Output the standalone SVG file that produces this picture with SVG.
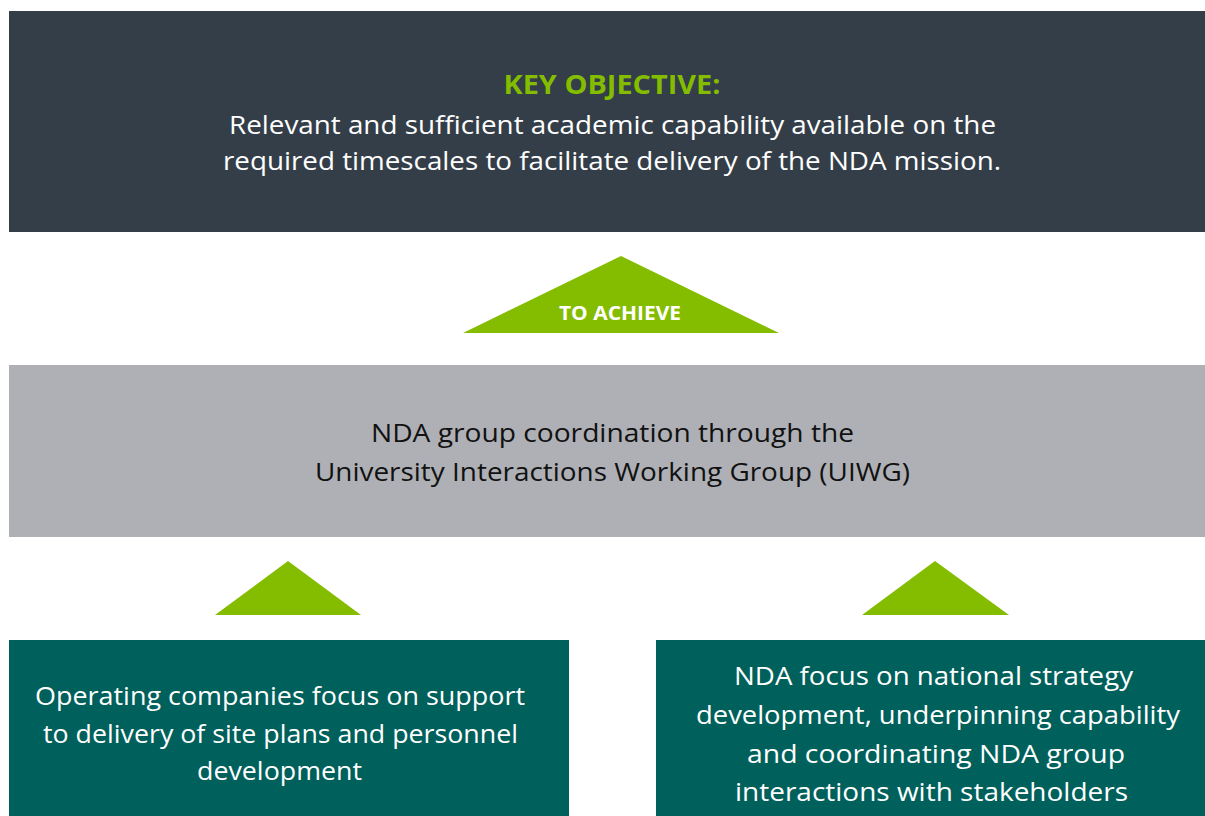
<svg xmlns="http://www.w3.org/2000/svg" width="1205" height="816" viewBox="0 0 1205 816">
  <style>
    .t { font-family: "Open Sans", "Noto Sans", "Liberation Sans", sans-serif; text-anchor: middle; }
    .body { font-size: 26px; }
    .light { fill: #ffffff; }
    .dark { fill: #111111; }
    .head { font-size: 26px; font-weight: bold; fill: #84bd00; }
    .tag { font-size: 19px; font-weight: bold; fill: #ffffff; }
    .arrow { fill: #84bd00; }
  </style>
  <rect width="1205" height="816" fill="#ffffff"/>

  <!-- Key objective banner -->
  <g id="objective">
    <rect x="9" y="11" width="1196" height="221" fill="#343e48"/>
    <text class="t head" x="612" y="94" textLength="217" lengthAdjust="spacingAndGlyphs">KEY OBJECTIVE:</text>
    <text class="t body light" x="612.5" y="134" textLength="767" lengthAdjust="spacingAndGlyphs">Relevant and sufficient academic capability available on the</text>
    <text class="t body light" x="612" y="170" textLength="778" lengthAdjust="spacingAndGlyphs">required timescales to facilitate delivery of the NDA mission.</text>
  </g>

  <!-- Upward arrows -->
  <g id="connectors">
    <g id="to-achieve">
      <polygon class="arrow" points="621,256 779,333 463,333"/>
      <text class="t tag" x="620" y="320" textLength="122" lengthAdjust="spacingAndGlyphs">TO ACHIEVE</text>
    </g>
    <polygon id="arrow-left" class="arrow" points="288,561 361,615 215,615"/>
    <polygon id="arrow-right" class="arrow" points="935,561 1009,615 862,615"/>
  </g>

  <!-- Coordination band -->
  <g id="coordination">
    <rect x="9" y="365" width="1196" height="172" fill="#aeb0b5"/>
    <text class="t body dark" x="612.5" y="442" textLength="483" lengthAdjust="spacingAndGlyphs">NDA group coordination through the</text>
    <text class="t body dark" x="612.5" y="481" textLength="595" lengthAdjust="spacingAndGlyphs">University Interactions Working Group (UIWG)</text>
  </g>

  <!-- Operating companies -->
  <g id="operating-companies">
    <rect x="9" y="640" width="560" height="176" fill="#00605b"/>
    <text class="t body light" x="280" y="705" textLength="490" lengthAdjust="spacingAndGlyphs">Operating companies focus on support</text>
    <text class="t body light" x="280.5" y="743" textLength="475" lengthAdjust="spacingAndGlyphs">to delivery of site plans and personnel</text>
    <text class="t body light" x="279.5" y="780" textLength="165" lengthAdjust="spacingAndGlyphs">development</text>
  </g>

  <!-- NDA focus -->
  <g id="nda-focus">
    <rect x="656" y="640" width="549" height="176" fill="#00605b"/>
    <text class="t body light" x="933.5" y="685" textLength="399" lengthAdjust="spacingAndGlyphs">NDA focus on national strategy</text>
    <text class="t body light" x="938" y="724" textLength="484" lengthAdjust="spacingAndGlyphs">development, underpinning capability</text>
    <text class="t body light" x="936" y="763" textLength="378" lengthAdjust="spacingAndGlyphs">and coordinating NDA group</text>
    <text class="t body light" x="931.5" y="801" textLength="393" lengthAdjust="spacingAndGlyphs">interactions with stakeholders</text>
  </g>
</svg>
